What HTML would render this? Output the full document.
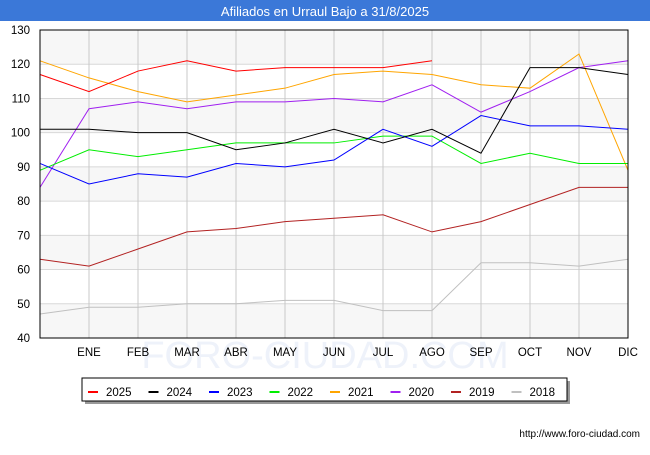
<!DOCTYPE html>
<html><head><meta charset="utf-8"><style>
body{margin:0;width:650px;height:450px;background:#fff;font-family:"Liberation Sans",sans-serif;overflow:hidden}
</style></head><body>
<svg width="650" height="450" xmlns="http://www.w3.org/2000/svg">
<text x="325" y="368" text-anchor="middle" fill="#eef2fa" font-size="38" font-family="Liberation Sans">FORO-CIUDAD.COM</text>
<rect x="0" y="0" width="650" height="21" fill="#3b78d8"/>
<text x="325" y="16" text-anchor="middle" fill="#fff" font-size="13" font-family="Liberation Sans">Afiliados en Urraul Bajo a 31/8/2025</text>
<g id="bands"></g><g id="grid"></g><g id="series"></g><g id="axes"></g>
<rect x="85" y="381" width="485" height="23" fill="#999"/>
<rect x="82" y="378" width="485" height="23" fill="#fff" stroke="#000" stroke-width="1"/>
<g id="legend"></g>
<text x="640" y="437" text-anchor="end" font-size="10" fill="#000">http://www.foro-ciudad.com</text>
</svg>
<script>
const categories=["","ENE","FEB","MAR","ABR","MAY","JUN","JUL","AGO","SEP","OCT","NOV","DIC"];
const yTicks=[40,50,60,70,80,90,100,110,120,130];
const seriesNames=["2025","2024","2023","2022","2021","2020","2019","2018"];
const seriesColors=["#ff0000","#000000","#0000ff","#00ee00","#ffa500","#a020f0","#b22222","#c0c0c0"];
const s2025=[117,112,118,121,118,119,119,119,121];
const s2024=[101,101,100,100,95,97,101,97,101,94,119,119,117];
const s2023=[91,85,88,87,91,90,92,101,96,105,102,102,101];
const s2022=[89,95,93,95,97,97,97,99,99,91,94,91,91];
const s2021=[121,116,112,109,111,113,117,118,117,114,113,123,89];
const s2020=[84,107,109,107,109,109,110,109,114,106,112,119,121];
const s2019=[63,61,66,71,72,74,75,76,71,74,79,84,84];
const s2018=[47,49,49,50,50,51,51,48,48,62,62,61,63];
const allSeries=[s2025,s2024,s2023,s2022,s2021,s2020,s2019,s2018];
const NS="http://www.w3.org/2000/svg";
const X0=40,X1=628,Y0=338,Y1=30,ymin=40,ymax=130;
const xs=i=>X0+i*(X1-X0)/(categories.length-1);
const ys=v=>Y0-(v-ymin)*(Y0-Y1)/(ymax-ymin);
function mk(t,a,p){const e=document.createElementNS(NS,t);for(const k in a)e.setAttribute(k,a[k]);p.appendChild(e);return e;}
const bands=document.getElementById('bands'),grid=document.getElementById('grid'),ser=document.getElementById('series'),ax=document.getElementById('axes'),leg=document.getElementById('legend');
for(let i=0;i<yTicks.length-1;i++){
  if((yTicks.length-2-i)%2===0){const r=mk('rect',{x:X0,y:ys(yTicks[i+1]),width:X1-X0,height:ys(yTicks[i])-ys(yTicks[i+1]),fill:'#f7f7f7'},bands);
  
  }
}
yTicks.forEach(v=>{
  const l=mk('line',{x1:X0,x2:X1,y1:ys(v),y2:ys(v),stroke:'#d8d8d8'},grid);
  
  
  const t=mk('text',{x:X0-10,y:ys(v)+4,'text-anchor':'end','font-size':'11.5',fill:'#000'},ax);t.textContent=v;
  
  
});
categories.forEach((c,i)=>{
  if(i>0){const l=mk('line',{x1:xs(i),x2:xs(i),y1:Y1,y2:Y0,stroke:'#c8c8c8'},grid);
  
  }
  const t=mk('text',{x:xs(i),y:356,'text-anchor':'middle','font-size':'11.5',fill:'#000'},ax);t.textContent=c;
  
  
});
const fr=mk('rect',{x:X0,y:Y1,width:X1-X0,height:Y0-Y1,fill:'none',stroke:'#000','stroke-width':1},ax);


for(let s=allSeries.length-1;s>=0;s--){
  const pts=allSeries[s].map((v,i)=>xs(i)+','+ys(v)).join(' ');
  const p=mk('polyline',{points:pts,fill:'none',stroke:seriesColors[s],'stroke-width':1},ser);
  
  
}
seriesNames.forEach((n,i)=>{
  const x=88+i*60.5;
  const l=mk('line',{x1:x,x2:x+10,y1:392,y2:392,stroke:seriesColors[i],'stroke-width':2},leg);
  
  
  const t=mk('text',{x:x+18,y:396,'font-size':'11.5',fill:'#000'},leg);t.textContent=n;
  
  
});
</script>
</body></html>
